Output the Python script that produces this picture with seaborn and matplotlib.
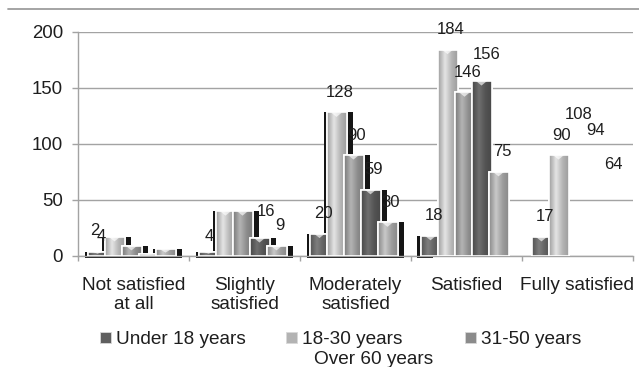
import numpy as np
import pandas as pd
import matplotlib
matplotlib.use("Agg")
import matplotlib.pyplot as plt
from matplotlib.patches import Rectangle, Polygon
from matplotlib.lines import Line2D
from matplotlib.colors import to_rgb, LinearSegmentedColormap
import seaborn as sns

# ---- data -------------------------------------------------------------
categories = ["Not satisfied\nat all", "Slightly\nsatisfied",
              "Moderately\nsatisfied", "Satisfied", "Fully satisfied"]
age_groups = ["Under 18 years", "18-30 years", "31-50 years",
              "51-60 years", "Over 60 years"]
under_18 = [4, 4, 20, 18, 17]
age_18_30 = [17, 40, 128, 184, 90]
age_31_50 = [9, 40, 90, 146, 108]
age_51_60 = [2, 16, 59, 156, 94]
over_60 = [6, 9, 30, 75, 64]
y_ticks = [0, 50, 100, 150, 200]

series_values = [under_18, age_18_30, age_31_50, age_51_60, over_60]

# ---- style ------------------------------------------------------------
palette = ["#5f5f5f", "#b3b3b3", "#8b8b8b", "#525252", "#9c9c9c"]
W, H, DPI = 6.39, 3.67, 100
FIG_W, FIG_H = W * DPI, H * DPI
BAR_SPACING_PX = 17.0
BAR_SHIFT_PX = -2.0
BAR_WIDTH_PX = 20.0
SHADOW_LEFT_PX, SHADOW_RIGHT_PX, SHADOW_BELOW_PX = 3.0, 6.0, 1.8
SHADOW_CUT_X = 2.70     # dark bar sides only drawn left of this x
BAR_CUT_X = 3.92        # bars centred right of this x are not drawn
CHEVRON_W_PX, CHEVRON_H_PX = 11.0, 4.5
LABEL_DX, LABEL_DY = 3.5, 20.0
label_hidden = {(0, 1), (0, 2), (0, 4), (1, 1), (1, 2)}
label_nudge = {(0, 0): (0, -5), (0, 3): (-57, 3), (1, 0): (-3, -5),
               (1, 3): (3, 7), (3, 3): (2, 7)}
GRID = "#a3a3a3"
TEXT = "#1e1e1e"

sns.set_style("white")
plt.rcParams["font.family"] = ["Liberation Sans", "DejaVu Sans"]

rows = [(c, g, v) for g, vals in zip(age_groups, series_values)
        for c, v in zip(categories, vals)]
df = pd.DataFrame(rows, columns=["category", "age", "count"])

fig = plt.figure(figsize=(W, H), dpi=DPI)
ax = fig.add_axes([78 / FIG_W, 1 - 256 / FIG_H, 555 / FIG_W, (256 - 31.7) / FIG_H])

sns.barplot(data=df, x="category", y="count", hue="age", order=categories,
            hue_order=age_groups, palette=palette, saturation=1, dodge=True,
            width=0.8, edgecolor="white", linewidth=1.2, errorbar=None,
            legend=False, ax=ax)
bar_containers = list(ax.containers)

ax.set_xlim(-0.5, len(categories) - 0.5)
ax.set_ylim(0, 200)
ppu = ax.get_position().width * FIG_W / len(categories)   # pixels per category
ppy = ax.get_position().height * FIG_H / 200.0            # pixels per count

bar_w = BAR_WIDTH_PX / ppu
clip_shadow = Rectangle((-0.5, -20), SHADOW_CUT_X + 0.5, 300,
                        transform=ax.transData)


def gradient_cmap(color):
    base = np.array(to_rgb(color))
    edge = np.clip(base * 0.88, 0, 1)
    light = np.clip(base * 1.22 + 0.04, 0, 1)
    return LinearSegmentedColormap.from_list(
        "g", [(0, edge), (0.35, light), (0.7, base), (1, edge)])


grad = np.linspace(0, 1, 64).reshape(1, -1)

for j, cont in enumerate(bar_containers):
    offset = (BAR_SPACING_PX * (j - 2) + BAR_SHIFT_PX) / ppu
    centers = np.arange(len(categories)) + offset
    vals = np.array(series_values[j], dtype=float)

    # dark side faces behind the bars
    shadows = ax.bar(centers + (SHADOW_RIGHT_PX - SHADOW_LEFT_PX) / 2 / ppu,
                     vals + SHADOW_BELOW_PX / ppy,
                     bottom=-SHADOW_BELOW_PX / ppy,
                     width=bar_w + (SHADOW_LEFT_PX + SHADOW_RIGHT_PX) / ppu,
                     color="#151515", linewidth=0, zorder=2)
    for sp in shadows.patches:
        sp.set_clip_path(clip_shadow)
        sp.set_clip_on(True)

    for k, patch in enumerate(cont.patches):
        patch.set_x(centers[k] - bar_w / 2)
        patch.set_width(bar_w)
        patch.set_zorder(3 + j)
        if centers[k] > BAR_CUT_X:
            patch.set_visible(False)
            continue
        img = ax.imshow(grad, extent=[centers[k] - bar_w / 2, centers[k] + bar_w / 2,
                                      0, vals[k]],
                        aspect="auto", cmap=gradient_cmap(palette[j]),
                        zorder=3 + j + 0.01, interpolation="bilinear")
        img.set_clip_path(patch)
        # small bevel highlight at the top of the bar
        cw, ch = CHEVRON_W_PX / 2 / ppu, min(CHEVRON_H_PX / ppy, vals[k] * 0.5)
        ax.add_patch(Polygon([(centers[k] - cw, vals[k]), (centers[k] + cw, vals[k]),
                              (centers[k], vals[k] - ch)], closed=True,
                             facecolor="white", alpha=0.65, linewidth=0,
                             zorder=3 + j + 0.015))
        outline = Rectangle(patch.get_xy(), bar_w, vals[k], facecolor="none",
                            edgecolor="white", linewidth=1.2, zorder=3 + j + 0.02)
        ax.add_patch(outline)

    for k, v in enumerate(series_values[j]):
        if (k, j) in label_hidden:
            continue
        ndx, ndy = label_nudge.get((k, j), (0, 0))
        ax.annotate(str(v), xy=(centers[k], v),
                    xytext=(LABEL_DX + ndx, LABEL_DY + ndy),
                    textcoords="offset pixels", ha="center", va="center",
                    fontsize=12, color=TEXT, zorder=20, annotation_clip=False)

ax.set_xlim(-0.5, len(categories) - 0.5)
ax.set_ylim(0, 200)

# axes, ticks and grid
ax.set_yticks(y_ticks)
ax.set_yticklabels([str(t) for t in y_ticks])
ax.tick_params(axis="y", length=4.3, width=1.0, color=GRID, pad=6.5,
               labelsize=13.4, labelcolor=TEXT, direction="out", left=True)
ax.set_xticks(range(len(categories)))
ax.set_xticklabels(categories)
ax.set_xticks(np.arange(len(categories) + 1) - 0.5, minor=True)
ax.tick_params(axis="x", which="major", length=0, pad=15,
               labelsize=13.7, labelcolor=TEXT)
ax.tick_params(axis="x", which="minor", length=3.8, width=1.0, color=GRID,
               direction="out", bottom=True)
ax.set_xlabel("")
ax.set_ylabel("")
ax.yaxis.grid(True, color=GRID, linewidth=1.0)
ax.xaxis.grid(False)
ax.set_axisbelow(True)
for side in ("top", "right"):
    ax.spines[side].set_visible(False)
for side in ("left", "bottom"):
    ax.spines[side].set_color(GRID)
    ax.spines[side].set_linewidth(1.0)
    ax.spines[side].set_zorder(2.5)

# frame line along the top
fig.add_artist(Line2D([8 / FIG_W, 1], [1 - 9.3 / FIG_H] * 2,
                      transform=fig.transFigure, color="#9d9d9d", lw=1.3))

# legend
legend_layout = [(0, 116, 344.3, True), (1, 302, 344.3, True),
                 (2, 481, 344.3, True), (4, 314, 363.8, False)]
for j, tx, base_y, has_marker in legend_layout:
    fig.text(tx / FIG_W, 1 - base_y / FIG_H, age_groups[j], fontsize=13.7,
             color=TEXT, ha="left", va="baseline")
    if has_marker:
        cy = base_y - 6.8
        fig.add_artist(Rectangle(((tx - 16) / FIG_W, 1 - (cy + 5.5) / FIG_H),
                                 11 / FIG_W, 11 / FIG_H, transform=fig.transFigure,
                                 facecolor=palette[j], edgecolor="#d8d8d8",
                                 linewidth=0.6))

fig.savefig("out.png", dpi=DPI)
